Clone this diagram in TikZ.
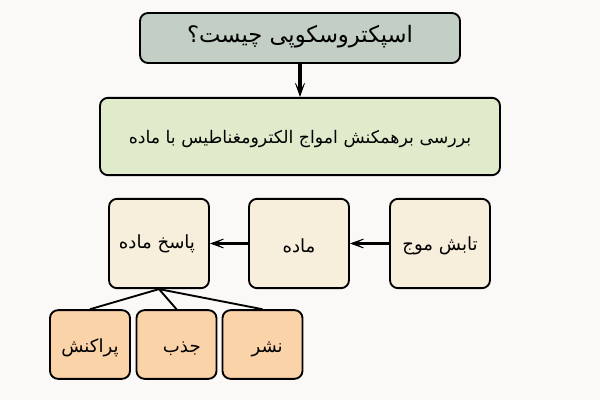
\documentclass[tikz,border=0pt]{standalone}
\usepackage{fontspec}
\usepackage{tikz}
\usetikzlibrary{arrows.meta}
\TeXXeTstate=1
\newfontfamily\arabicfont[Script=Arabic]{DejaVu Sans}
\newcommand{\fasize}[1]{\fontsize{#1}{#1}\selectfont\arabicfont}
\newcommand{\fadrop}[1]{\raisebox{-#1}[0pt][0pt]}
\definecolor{pagebg}{HTML}{FBF9F8}
\definecolor{titlefill}{HTML}{C3CFC5}
\definecolor{greenfill}{HTML}{E0EBCB}
\definecolor{creamfill}{HTML}{F8EEDC}
\definecolor{orangefill}{HTML}{FBD3A8}
\begin{document}
\begin{tikzpicture}[x=0.75pt,y=-0.75pt]
            \tikzstyle{box}=[draw=black,line width=1.4pt,rounded corners=6pt,inner sep=0pt,text height=10pt,text depth=10pt]
            \tikzstyle{flow}=[line width=2.4pt,-{Stealth[length=14pt,width=10pt,inset=10pt,line width=0.5pt]}]
            \tikzstyle{branch}=[line width=1.4pt]
            \useasboundingbox[fill=pagebg] (0,0) rectangle (600,400);
            \node[box,fill=titlefill,minimum width=240pt,minimum height=37.5pt] (title) at (300,38) {\fasize{17}\fadrop{3pt}{\beginR اسپکتروسکوپی چیست؟\endR}};
            \node[box,fill=greenfill,minimum width=300pt,minimum height=58pt] (study) at (300,136.5) {\fasize{13}\fadrop{5.6pt}{\beginR بررسی برهمکنش امواج الکترومغناطیس با ماده\endR}};
            \node[box,fill=creamfill,minimum width=75pt,minimum height=67pt] (wave) at (440,243.5) {\fasize{13.6}\fadrop{5.6pt}{\beginR تابش موج\endR}};
            \node[box,fill=creamfill,minimum width=75pt,minimum height=67pt] (matter) at (299,243.5) {\fasize{13.6}\fadrop{6.8pt}{\beginR ماده\endR}};
            \node[box,fill=creamfill,minimum width=75pt,minimum height=67pt] (response) at (159,243.5) {\fasize{13.6}\fadrop{4pt}{\beginR پاسخ ماده\endR}\hspace*{3pt}};
            \node[box,fill=orangefill,minimum width=60pt,minimum height=51.5pt] (scatter) at (90,344.5) {\fasize{13.6}\fadrop{6pt}{\beginR پراکنش\endR}};
            \node[box,fill=orangefill,minimum width=60pt,minimum height=51.5pt] (absorb) at (176.5,344.5) {\fasize{13.6}\hspace*{8pt}\fadrop{6pt}{\beginR جذب\endR}};
            \node[box,fill=orangefill,minimum width=60pt,minimum height=51.5pt] (emit) at (262.5,344.5) {\fasize{13.6}\hspace*{7pt}\fadrop{6pt}{\beginR نشر\endR}};
            \draw[flow] (title) -- (study);
            \draw[flow] (wave) -- (matter);
            \draw[flow] (matter) -- (response);
            \draw[branch] (response.south) -- (scatter.north);
            \draw[branch] (response.south) -- (absorb.north);
            \draw[branch] (response.south) -- (emit.north);
        \end{tikzpicture}
\end{document}
